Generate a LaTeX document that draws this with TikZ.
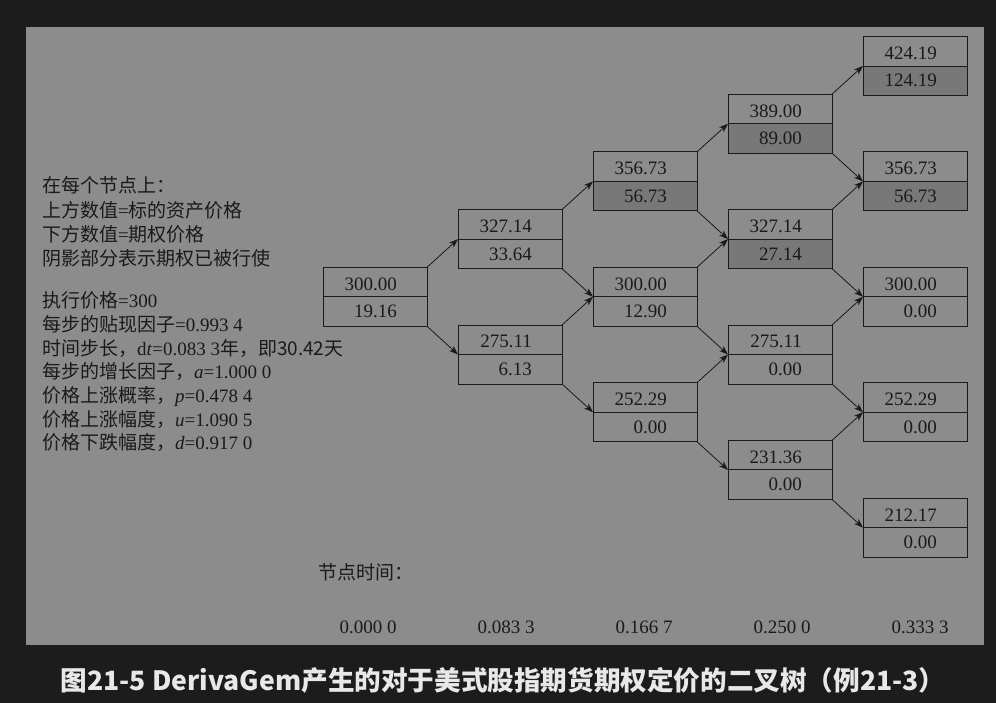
\documentclass[tikz,border=0pt]{standalone}
\usepackage{fontspec}
\setmainfont{Liberation Serif}
\newfontfamily\cjk{Noto Sans CJK SC}
\usetikzlibrary{arrows.meta,calc}
\definecolor{bgdark}{HTML}{1C1C1C}
\definecolor{panel}{HTML}{8C8C8C}
\definecolor{shadecol}{HTML}{787878}
\definecolor{ink}{HTML}{1A1A1A}
\definecolor{capcol}{HTML}{E8E8E8}
\newcommand\zh[1]{{\cjk #1}}
\tikzset{
  box/.style={draw=ink, line width=0.9pt, minimum width=104pt, minimum height=59pt, inner sep=0pt, outer sep=0pt},
  val/.style={anchor=base east, inner sep=0pt, font=\fontsize{19}{19}\selectfont, text=ink},
  conn/.style={draw=ink, line width=0.8pt, -{Stealth[length=9pt,width=6.5pt,inset=2.5pt]}},
  info/.style={anchor=base west, inner sep=0pt, font=\fontsize{19}{19}\selectfont, text=ink},
  tlabel/.style={anchor=base, inner sep=0pt, font=\fontsize{19}{19}\selectfont, text=ink},
  caption/.style={inner sep=0pt, font=\cjk\bfseries\fontsize{26.6}{26.6}\selectfont, text=capcol},
}
% name, left x, top y, upper, lower, lower fill
\newcommand\tnode[6]{%
  \fill[fill=#6] (#2,#3+29.5) rectangle (#2+104,#3+59);
  \node[box] (#1) at (#2+52,#3+29.5) {};
  \draw[ink, line width=0.9pt] (#1.west) -- (#1.east);
  \node[val] (#1u) at (#2+74,#3+23) {#4};
  \node[val] (#1l) at (#2+74,#3+50.5) {#5};
}
\begin{document}
\begin{tikzpicture}[x=1pt,y=-1pt]
\fill[bgdark] (0,0) rectangle (996,703);
\useasboundingbox (0,0) rectangle (996,703);
\fill[panel] (26,27) rectangle (984,645);

% tree nodes: left = 323 + 135 i, top = 267.3 - (2j-i)*57.7
\tnode{n00}{323}{267.3}{300.00}{19.16}{panel}
\tnode{n11}{458}{209.6}{327.14}{33.64}{panel}
\tnode{n10}{458}{325.0}{275.11}{6.13}{panel}
\tnode{n22}{593}{151.9}{356.73}{56.73}{shadecol}
\tnode{n21}{593}{267.3}{300.00}{12.90}{panel}
\tnode{n20}{593}{382.7}{252.29}{0.00}{panel}
\tnode{n33}{728}{94.2}{389.00}{89.00}{shadecol}
\tnode{n32}{728}{209.6}{327.14}{27.14}{shadecol}
\tnode{n31}{728}{325.0}{275.11}{0.00}{panel}
\tnode{n30}{728}{440.4}{231.36}{0.00}{panel}
\tnode{n44}{863}{36.5}{424.19}{124.19}{shadecol}
\tnode{n43}{863}{151.9}{356.73}{56.73}{shadecol}
\tnode{n42}{863}{267.3}{300.00}{0.00}{panel}
\tnode{n41}{863}{382.7}{252.29}{0.00}{panel}
\tnode{n40}{863}{498.1}{212.17}{0.00}{panel}

\foreach \i in {0,...,3} {
  \pgfmathtruncatemacro\ni{\i+1}
  \foreach \j in {0,...,\i} {
    \pgfmathtruncatemacro\nj{\j+1}
    \draw[conn] (n\i\j.north east) -- (n\ni\nj.west);
    \draw[conn] (n\i\j.south east) -- (n\ni\j.west);
  }
}

% legend text
\node[info] (l1) at (42,193) {\zh{在每个节点上：}};
\node[info] (l2) at (42,217.3) {\zh{上方数值}=\zh{标的资产价格}};
\node[info] (l3) at (42,241.6) {\zh{下方数值}=\zh{期权价格}};
\node[info] (l4) at (42,266) {\zh{阴影部分表示期权已被行使}};
\node[info] (l5) at (42,307.7) {\zh{执行价格}=300};
\node[info] (l6) at (42,331.4) {\zh{每步的贴现因子}=0.993 4};
\node[info] (l7) at (42,355.1) {\zh{时间步长，}d\textit{t}=0.083 3\zh{年，即30.42天}};
\node[info] (l8) at (42,378.8) {\zh{每步的增长因子，}\textit{a}=1.000 0};
\node[info] (l9) at (42,402.5) {\zh{价格上涨概率，}\textit{p}=0.478 4};
\node[info] (l10) at (42,426.2) {\zh{价格上涨幅度，}\textit{u}=1.090 5};
\node[info] (l11) at (42,449.9) {\zh{价格下跌幅度，}\textit{d}=0.917 0};

% node times
\node[info] (nt) at (318,579) {\zh{节点时间：}};
\node[tlabel] (t0) at (368,633) {0.000 0};
\node[tlabel] (t1) at (506,633) {0.083 3};
\node[tlabel] (t2) at (644,633) {0.166 7};
\node[tlabel] (t3) at (782,633) {0.250 0};
\node[tlabel] (t4) at (920,633) {0.333 3};

% caption
\node[caption] (cap) at (503,680) {图21-5 DerivaGem产生的对于美式股指期货期权定价的二叉树（例21-3）};
\end{tikzpicture}
\end{document}
